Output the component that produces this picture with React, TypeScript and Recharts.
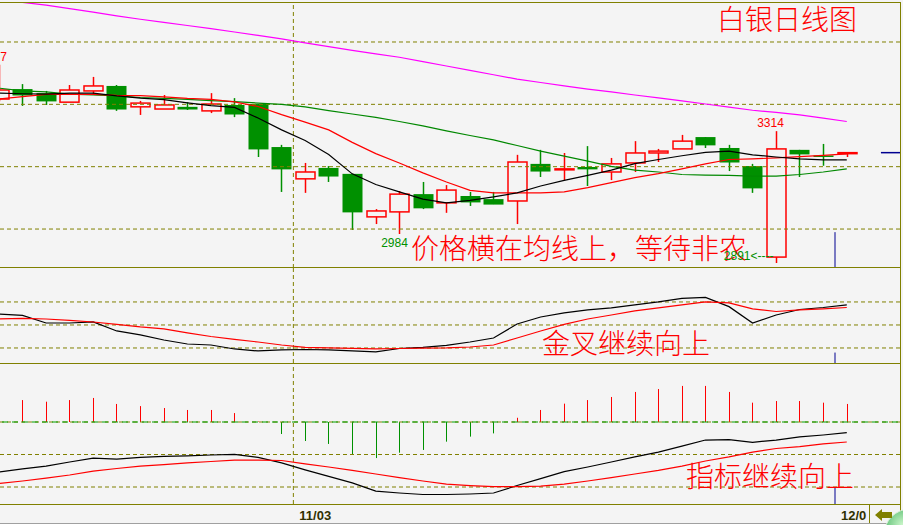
import { Bar, ComposedChart, Line, ReferenceLine, XAxis, YAxis } from "recharts";

// daily bars, left to right (the first one is cut by the left edge)
const OPEN = [3417, 3449, 3436, 3407, 3443, 3459, 3392, 3385, 3392, 3379, 3398, 3401, 3263, 3161, 3196, 3177, 3039, 3055, 3112, 3084, 3106, 3096, 3090, 3209, 3191, 3199, 3183, 3212, 3244, 3257, 3295, 3260, 3202, 2910, 3254, 3236, 3243];
const HIGH = [3527, 3465, 3443, 3462, 3488, 3462, 3411, 3430, 3407, 3436, 3420, 3401, 3270, 3212, 3202, 3177, 3064, 3122, 3151, 3141, 3119, 3119, 3238, 3254, 3244, 3266, 3228, 3282, 3257, 3302, 3295, 3270, 3209, 3314, 3254, 3273, 3247];
const LOW = [3410, 3395, 3398, 3407, 3430, 3379, 3366, 3385, 3382, 3372, 3359, 3231, 3119, 3116, 3151, 2997, 3016, 2984, 3064, 3052, 3074, 3080, 3016, 3167, 3157, 3138, 3157, 3183, 3215, 3257, 3260, 3186, 3116, 2891, 3167, 3203, 3231];
const CLOSE = [3446, 3430, 3411, 3446, 3459, 3385, 3404, 3398, 3385, 3401, 3369, 3257, 3193, 3183, 3170, 3055, 3058, 3112, 3068, 3125, 3087, 3080, 3215, 3186, 3193, 3193, 3209, 3244, 3250, 3282, 3270, 3215, 3132, 3257, 3241, 3234, 3245];

// moving averages
const MA5 = [3436, 3434, 3433, 3436, 3436, 3427, 3420, 3415, 3405, 3396, 3390, 3356, 3318, 3284, 3239, 3177, 3143, 3119, 3096, 3084, 3092, 3103, 3116, 3138, 3156, 3172, 3189, 3210, 3223, 3235, 3246, 3250, 3238, 3231, 3225, 3222, 3222];
const MA10 = [3417, 3425, 3432, 3433, 3432, 3429, 3428, 3424, 3419, 3416, 3408, 3393, 3367, 3343, 3318, 3278, 3242, 3212, 3180, 3151, 3124, 3116, 3116, 3116, 3119, 3133, 3149, 3165, 3178, 3193, 3209, 3223, 3225, 3228, 3232, 3236, 3241];
const MA20 = [3452, 3443, 3440, 3433, 3430, 3427, 3422, 3419, 3416, 3412, 3409, 3404, 3400, 3392, 3380, 3369, 3358, 3345, 3331, 3315, 3300, 3286, 3268, 3250, 3234, 3218, 3201, 3189, 3183, 3175, 3173, 3172, 3170, 3170, 3175, 3183, 3193];
const MA60 = [3736, 3727, 3718, 3707, 3696, 3684, 3673, 3663, 3653, 3643, 3632, 3621, 3610, 3597, 3585, 3573, 3562, 3551, 3537, 3523, 3509, 3495, 3481, 3470, 3459, 3449, 3440, 3430, 3421, 3411, 3401, 3391, 3381, 3374, 3366, 3356, 3345];

// second panel (black / red)
const K_LINE = [64.3, 62.4, 52.6, 52.6, 53.9, 42.2, 37.0, 30.4, 25.2, 23.9, 18.7, 16.1, 17.4, 18.0, 17.4, 16.1, 14.8, 19.3, 20.7, 23.3, 27.8, 33.0, 51.3, 60.4, 65.7, 69.6, 72.2, 76.1, 80.0, 84.6, 85.9, 73.9, 52.6, 63.0, 70.2, 72.8, 76.1];
const D_LINE = [57.8, 58.5, 57.8, 55.9, 53.9, 50.7, 47.4, 44.8, 39.6, 35.0, 31.1, 27.8, 23.9, 20.7, 20.0, 19.6, 18.7, 19.3, 19.7, 20.0, 21.3, 23.9, 33.0, 42.2, 50.7, 57.8, 63.0, 68.3, 72.2, 76.1, 80.0, 78.7, 70.9, 67.6, 69.6, 70.9, 72.8];

// MACD panel
const DIF = [-30.8, -28.9, -27.1, -24.6, -22.2, -22.8, -21.8, -21.2, -20.9, -20.3, -19.9, -21.8, -25.2, -29.5, -33.5, -37.5, -42.5, -43.7, -44.6, -44.6, -44.3, -43.7, -39.1, -34.8, -30.5, -27.7, -24.6, -21.5, -18.5, -14.8, -11.1, -10.8, -12.5, -11.1, -9.2, -8.0, -6.5];
const DEA = [-37.8, -36.3, -34.5, -32.6, -30.2, -28.6, -27.1, -26.2, -25.2, -24.3, -23.4, -23.4, -23.7, -25.8, -27.7, -29.8, -32.0, -34.2, -36.3, -38.2, -39.1, -39.8, -39.8, -39.4, -38.2, -36.3, -34.2, -32.0, -29.8, -27.1, -24.0, -21.5, -18.5, -16.3, -15.1, -13.5, -12.3];
const HIST = [14.0, 13.5, 12.5, 13.5, 14.8, 11.1, 9.8, 8.6, 7.4, 7.4, 5.5, 0.3, -7.4, -11.7, -13.5, -19.7, -22.2, -18.9, -17.2, -12.1, -9.0, -7.0, 2.6, 7.4, 11.3, 13.5, 15.4, 18.5, 20.3, 22.2, 22.2, 18.5, 11.9, 12.9, 12.9, 11.9, 11.1];

// month boundaries (between bars) and their labels
const MONTH_BREAKS = [12.5, 35.5];
const MONTH_LABELS = ["11/03", "12/0"];

// which bars carry a high / low price tag
const HIGH_TAG_AT = [0, 33];
const LOW_TAG_AT = [17];
const LOW_ARROW_AT = [33];

const PRICE_GRID = [3600, 3400, 3200, 3000];
const KD_GRID = [80, 50, 20];
const MACD_GRID = [-20, -40];

const TITLE = "白银日线图";
const NOTES = ["价格横在均线上，等待非农", "金叉继续向上", "指标继续向上"];

const OLIVE = "#808000";
const RED = "#ff0000";
const GREEN = "#009000";
const NAVY = "#000090";
const X_DOMAIN: [number, number] = [0.0425, 38.26];
const W = 900;

const rows = CLOSE.map((c, i) => ({
  i,
  o: OPEN[i],
  h: HIGH[i],
  l: LOW[i],
  c,
  ma5: MA5[i],
  ma10: MA10[i],
  ma20: MA20[i],
  ma60: MA60[i],
  k: K_LINE[i],
  d: D_LINE[i],
  dif: DIF[i],
  dea: DEA[i],
  hist: HIST[i],
}));

const tagFont = "'Liberation Sans Narrow', 'Liberation Sans', Arial, sans-serif";

function Candle(props: any) {
  const { x, y, width, height, payload } = props;
  const { i, o, h, l, c } = payload;
  const span = h - l || 1;
  const py = (v: number) => y + ((h - v) / span) * height;
  const cx = Math.round(x + width / 2) + 0.5;
  const up = c >= o;
  const top = py(Math.max(o, c));
  const bot = Math.max(py(Math.min(o, c)), top + 1);
  const yH = py(h);
  const yL = py(l);
  const bw = 19;
  return (
    <g>
      {up ? (
        <>
          <line x1={cx} x2={cx} y1={yH} y2={top} stroke={RED} strokeWidth={1.5} />
          <line x1={cx} x2={cx} y1={bot} y2={yL} stroke={RED} strokeWidth={1.5} />
          <rect x={cx - bw / 2} y={top} width={bw} height={bot - top} fill="none" stroke={RED} strokeWidth={1.5} />
        </>
      ) : (
        <>
          <line x1={cx} x2={cx} y1={yH} y2={yL} stroke={GREEN} strokeWidth={1.5} />
          <rect x={cx - bw / 2 - 0.5} y={top} width={bw + 1} height={bot - top + 0.5} fill={GREEN} />
        </>
      )}
      {HIGH_TAG_AT.includes(i) && (
        <text x={cx - 6} y={yH - 4} textAnchor="middle" fill={RED} fontSize={12} fontFamily={tagFont}>
          {h}
        </text>
      )}
      {LOW_TAG_AT.includes(i) && (
        <text x={cx - 5} y={yL + 13} textAnchor="middle" fill={GREEN} fontSize={12} fontFamily={tagFont}>
          {l}
        </text>
      )}
      {LOW_ARROW_AT.includes(i) && (
        <text x={cx - 3} y={yL - 3} textAnchor="end" fill={GREEN} fontSize={12} fontFamily={tagFont}>
          {`${l}<----`}
        </text>
      )}
    </g>
  );
}

function Stick(props: any) {
  const { x, y, width, height, payload } = props;
  const cx = Math.round(x + width / 2) + 0.5;
  return (
    <line
      x1={cx}
      x2={cx}
      y1={y}
      y2={y + height}
      stroke={payload.hist >= 0 ? RED : GREEN}
      strokeWidth={1}
    />
  );
}

function MonthTick(props: any) {
  const { x, y, payload } = props;
  const idx = MONTH_BREAKS.indexOf(payload.value);
  return (
    <text
      x={x + 6}
      y={y}
      dy={16}
      fill="#303000"
      fontSize={13}
      fontWeight="bold"
      fontFamily="'Liberation Sans', Arial, sans-serif"
    >
      {MONTH_LABELS[idx] ?? ""}
    </text>
  );
}

const dash = "4 3";
const noMargin = { top: 0, right: 0, bottom: 0, left: 0 };

function MainPanel() {
  const last = CLOSE[CLOSE.length - 1];
  return (
    <ComposedChart width={W} height={266} data={rows} margin={noMargin}>
      <XAxis type="number" dataKey="i" domain={X_DOMAIN} allowDataOverflow hide />
      <YAxis type="number" domain={[2875, 3728.3]} allowDataOverflow hide />
      {PRICE_GRID.map((v) => (
        <ReferenceLine key={v} y={v} stroke={OLIVE} strokeDasharray={dash} />
      ))}
      <ReferenceLine x={MONTH_BREAKS[0]} stroke={OLIVE} strokeDasharray={dash} />
      <ReferenceLine
        segment={[
          { x: MONTH_BREAKS[1], y: 2990 },
          { x: MONTH_BREAKS[1], y: 2875 },
        ]}
        stroke={NAVY}
      />
      <Bar dataKey={(d: any) => [d.l, d.h]} barSize={19} shape={(p: any) => <Candle {...p} />} isAnimationActive={false} />
      <Line dataKey="ma60" stroke="#ff00ff" strokeWidth={1.2} dot={false} isAnimationActive={false} />
      <Line dataKey="ma20" stroke="#008800" strokeWidth={1.2} dot={false} isAnimationActive={false} />
      <Line dataKey="ma10" stroke={RED} strokeWidth={1.2} dot={false} isAnimationActive={false} />
      <Line dataKey="ma5" stroke="#000000" strokeWidth={1.2} dot={false} isAnimationActive={false} />
      <ReferenceLine
        segment={[
          { x: 37.45, y: last },
          { x: 38.26, y: last },
        ]}
        stroke={NAVY}
        strokeWidth={1.5}
      />
    </ComposedChart>
  );
}

function KdPanel() {
  return (
    <ComposedChart width={W} height={95} data={rows} margin={noMargin}>
      <XAxis type="number" dataKey="i" domain={X_DOMAIN} allowDataOverflow hide />
      <YAxis type="number" domain={[0.4, 124.3]} allowDataOverflow hide />
      {KD_GRID.map((v) => (
        <ReferenceLine key={v} y={v} stroke={OLIVE} strokeDasharray={dash} />
      ))}
      <ReferenceLine x={MONTH_BREAKS[0]} stroke={OLIVE} strokeDasharray={dash} />
      <ReferenceLine
        segment={[
          { x: MONTH_BREAKS[1], y: 14 },
          { x: MONTH_BREAKS[1], y: 0.4 },
        ]}
        stroke={NAVY}
      />
      <Line dataKey="k" stroke="#000000" strokeWidth={1.2} dot={false} isAnimationActive={false} />
      <Line dataKey="d" stroke={RED} strokeWidth={1.2} dot={false} isAnimationActive={false} />
    </ComposedChart>
  );
}

function MacdPanel() {
  return (
    <ComposedChart width={W} height={160} data={rows} margin={noMargin}>
      <XAxis
        type="number"
        dataKey="i"
        domain={X_DOMAIN}
        allowDataOverflow
        ticks={MONTH_BREAKS}
        interval={0}
        tick={(p: any) => <MonthTick {...p} />}
        tickLine={false}
        axisLine={false}
        tickSize={0}
        tickMargin={0}
        height={19}
      />
      <YAxis type="number" domain={[-50.46, 36.31]} allowDataOverflow hide />
      {MACD_GRID.map((v) => (
        <ReferenceLine key={v} y={v} stroke={OLIVE} strokeDasharray={dash} />
      ))}
      <ReferenceLine y={0} stroke={OLIVE} strokeDasharray={dash} />
      <ReferenceLine y={0} stroke="#00a000" strokeDasharray="6 4" strokeDashoffset={-2} />
      <ReferenceLine x={MONTH_BREAKS[0]} stroke={OLIVE} strokeDasharray={dash} />
      <ReferenceLine
        segment={[
          { x: MONTH_BREAKS[1], y: -40.6 },
          { x: MONTH_BREAKS[1], y: -50.46 },
        ]}
        stroke={NAVY}
      />
      <Bar dataKey="hist" barSize={3} shape={(p: any) => <Stick {...p} />} isAnimationActive={false} />
      <Line dataKey="dif" stroke="#000000" strokeWidth={1.2} dot={false} isAnimationActive={false} />
      <Line dataKey="dea" stroke={RED} strokeWidth={1.2} dot={false} isAnimationActive={false} />
    </ComposedChart>
  );
}

const noteStyle = {
  position: "absolute" as const,
  color: RED,
  fontSize: 28,
  lineHeight: "28px",
  fontWeight: 300,
  fontFamily: "'Noto Sans CJK SC', sans-serif",
  whiteSpace: "nowrap" as const,
};

function Rule({ left, top, width, height, color = OLIVE }: any) {
  return <div style={{ position: "absolute", left, top, width, height, background: color }} />;
}

export default function App() {
  return (
    <div
      style={{
        position: "relative",
        width: 903,
        height: 525,
        background: "#f4f4f4",
        overflow: "hidden",
      }}
    >
      <style>{"body{margin:0}"}</style>
      <div style={{ ...noteStyle, left: 411, top: 233 }}>{NOTES[0]}</div>

      <div style={{ position: "absolute", left: 0, top: 2 }}>
        <MainPanel />
      </div>
      <div style={{ position: "absolute", left: 0, top: 268 }}>
        <KdPanel />
      </div>
      <div style={{ position: "absolute", left: 0, top: 363 }}>
        <MacdPanel />
      </div>

      <div style={{ ...noteStyle, left: 717, top: 4 }}>{TITLE}</div>
      <div style={{ ...noteStyle, left: 542, top: 328 }}>{NOTES[1]}</div>
      <div style={{ ...noteStyle, left: 686, top: 461 }}>{NOTES[2]}</div>

      <Rule left={0} top={2} width={901} height={1} />
      <Rule left={0} top={267} width={901} height={1} />
      <Rule left={0} top={363} width={901} height={1} />
      <Rule left={0} top={504} width={901} height={1} />
      <Rule left={900} top={2} width={1} height={521} />
      <Rule left={869} top={504} width={1} height={19} />
      <Rule left={0} top={523} width={903} height={1} color="#a0a0a0" />
      <Rule left={0} top={524} width={903} height={1} color="#ffffff" />

      <svg style={{ position: "absolute", left: 870, top: 505 }} width={33} height={20}>
        <defs>
          <radialGradient id="ball" cx="0.35" cy="0.3" r="0.8">
            <stop offset="0%" stopColor="#c8f5c8" />
            <stop offset="60%" stopColor="#3cae5a" />
            <stop offset="100%" stopColor="#1f7a3a" />
          </radialGradient>
        </defs>
        <circle cx={40} cy={30} r={26} fill="url(#ball)" stroke="#d8f0d8" strokeWidth={1} />
        <polygon points="5,10 12,4 12,7 22,7 22,13 12,13 12,16" fill={OLIVE} />
      </svg>
    </div>
  );
}
